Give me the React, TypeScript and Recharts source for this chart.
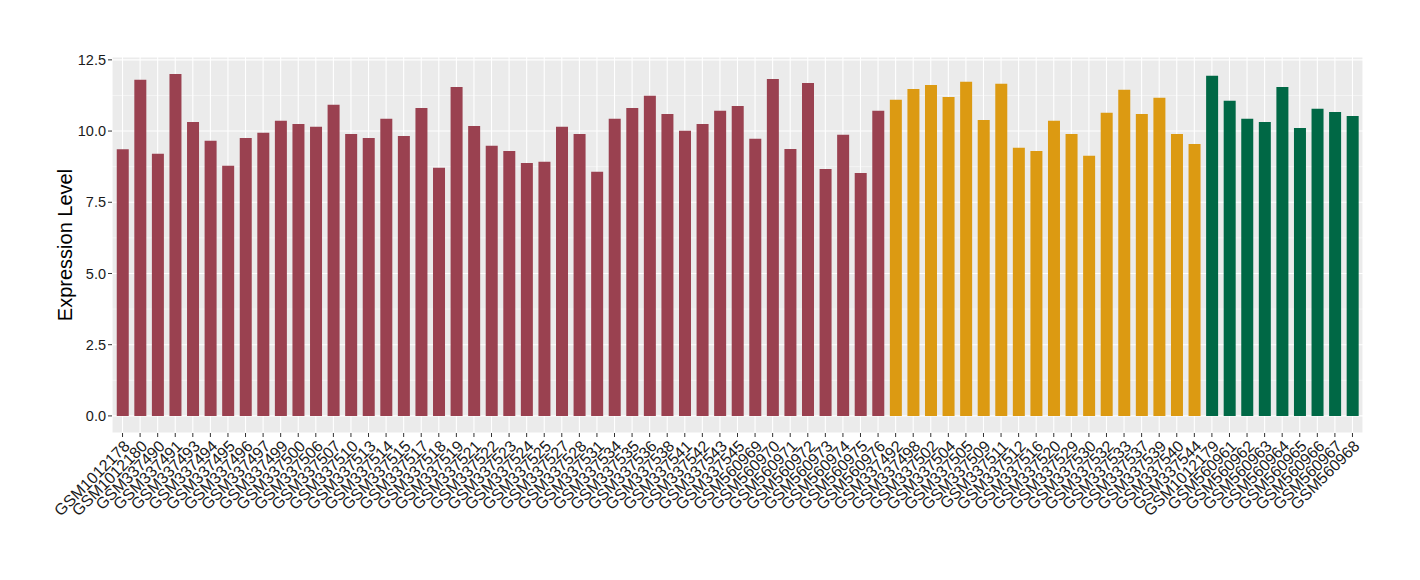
import { BarChart, Bar, XAxis, YAxis, CartesianGrid, Cell, Label } from 'recharts'

const group1Names = [
  'GSM1012178', 'GSM1012180', 'GSM337490', 'GSM337491', 'GSM337493', 'GSM337494',
  'GSM337495', 'GSM337496', 'GSM337497', 'GSM337499', 'GSM337500', 'GSM337506',
  'GSM337507', 'GSM337510', 'GSM337513', 'GSM337514', 'GSM337515', 'GSM337517',
  'GSM337518', 'GSM337519', 'GSM337521', 'GSM337522', 'GSM337523', 'GSM337524',
  'GSM337525', 'GSM337527', 'GSM337528', 'GSM337531', 'GSM337534', 'GSM337535',
  'GSM337536', 'GSM337538', 'GSM337541', 'GSM337542', 'GSM337543', 'GSM337545',
  'GSM560969', 'GSM560970', 'GSM560971', 'GSM560972', 'GSM560973', 'GSM560974',
  'GSM560975', 'GSM560976',
]
const group1Values = [
  9.36, 11.8, 9.2, 12.0, 10.32, 9.66, 8.78, 9.76, 9.94, 10.36, 10.25, 10.15,
  10.92, 9.9, 9.76, 10.43, 9.83, 10.81, 8.71, 11.55, 10.18, 9.48, 9.3, 8.88,
  8.92, 10.15, 9.9, 8.57, 10.43, 10.81, 11.24, 10.6, 10.01, 10.25, 10.71, 10.88,
  9.73, 11.83, 9.37, 11.69, 8.67, 9.87, 8.53, 10.71,
]

const group2Names = [
  'GSM337492', 'GSM337498', 'GSM337502', 'GSM337504', 'GSM337505', 'GSM337509',
  'GSM337511', 'GSM337512', 'GSM337516', 'GSM337520', 'GSM337529', 'GSM337530',
  'GSM337532', 'GSM337533', 'GSM337537', 'GSM337539', 'GSM337540', 'GSM337544',
]
const group2Values = [
  11.1, 11.48, 11.62, 11.2, 11.73, 10.39, 11.66, 9.41, 9.3, 10.36, 9.9, 9.13,
  10.64, 11.45, 10.6, 11.17, 9.9, 9.55,
]

const group3Names = [
  'GSM1012179', 'GSM560961', 'GSM560962', 'GSM560963', 'GSM560964', 'GSM560965',
  'GSM560966', 'GSM560967', 'GSM560968',
]
const group3Values = [11.94, 11.06, 10.43, 10.32, 11.55, 10.11, 10.78, 10.67, 10.53]

const groupColors = ['#9A4150', '#DC9A12', '#006845']

const yTicks = [0, 2.5, 5, 7.5, 10, 12.5]
const yMinor = [1.25, 3.75, 6.25, 8.75, 11.25]

const data = [
  ...group1Names.map((name, i) => ({ name, value: group1Values[i], group: 0 })),
  ...group2Names.map((name, i) => ({ name, value: group2Values[i], group: 1 })),
  ...group3Names.map((name, i) => ({ name, value: group3Values[i], group: 2 })),
]

const FONT = '"Liberation Sans", Arial, Helvetica, sans-serif'

function XTick(props: any) {
  const { x, y, payload } = props
  return (
    <g transform={`translate(${x},${y})`}>
      <text
        transform="rotate(-45)"
        textAnchor="end"
        dy="0.72em"
        fontSize={16}
        fontFamily={FONT}
        fill="#1a1a1a"
      >
        {payload.value}
      </text>
    </g>
  )
}

export default function App() {
  return (
    <BarChart
      width={1404}
      height={564}
      data={data}
      margin={{ top: 49, right: 49, bottom: 29, left: 44 }}
      barSize={12}
    >
      <CartesianGrid
        fill="#EBEBEB"
        stroke="#ffffff"
        strokeWidth={0.5}
        vertical={false}
        horizontalValues={yMinor}
      />
      <CartesianGrid stroke="#ffffff" strokeWidth={1.1} />
      <XAxis
        dataKey="name"
        interval={0}
        height={110}
        padding={{ left: 1.75, right: 1.75 }}
        axisLine={false}
        tickLine={{ stroke: '#333333' }}
        tickSize={4}
        tickMargin={2}
        tick={<XTick />}
      />
      <YAxis
        width={60}
        domain={[-0.6, 12.6]}
        ticks={yTicks}
        allowDataOverflow
        axisLine={false}
        tickLine={{ stroke: '#333333' }}
        tickSize={4}
        tickMargin={2}
        tickFormatter={(v: number) => v.toFixed(1)}
        tick={{ fontSize: 14.5, fontFamily: FONT, fill: '#1a1a1a' }}
      >
        <Label
          content={({ viewBox }: any) => {
            const cx = viewBox.x + 13
            const cy = viewBox.y + viewBox.height / 2
            return (
              <text
                x={cx}
                y={cy}
                transform={`rotate(-90, ${cx}, ${cy})`}
                textAnchor="middle"
                dominantBaseline="central"
                fontSize={20}
                fontFamily={FONT}
                fill="#000"
              >
                Expression Level
              </text>
            )
          }}
        />
      </YAxis>
      <Bar dataKey="value" isAnimationActive={false}>
        {data.map(d => (
          <Cell key={d.name} fill={groupColors[d.group]} />
        ))}
      </Bar>
    </BarChart>
  )
}
